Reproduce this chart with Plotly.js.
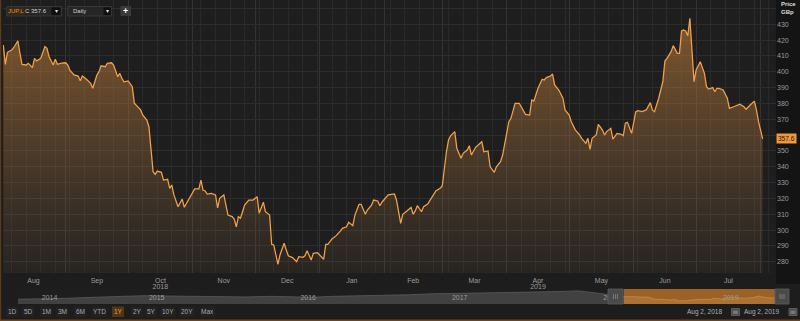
<!DOCTYPE html>
<html><head><meta charset="utf-8">
<script src="https://cdn.plot.ly/plotly-3.0.1.min.js"></script>
<style>html,body{margin:0;padding:0;background:#1d1d1d;overflow:hidden}#chart{width:800px;height:321px}</style>
</head><body><div id="chart"></div>
<script>
// ---------- data ----------
const symbol = 'JUP.L';
const lastPrice = 357.6;
const dates = [
'2018-08-02','2018-08-03','2018-08-04','2018-08-06','2018-08-07','2018-08-09','2018-08-10','2018-08-11','2018-08-13','2018-08-14','2018-08-16','2018-08-17','2018-08-18','2018-08-20','2018-08-22','2018-08-23','2018-08-24','2018-08-26','2018-08-27','2018-08-28','2018-08-30',
'2018-09-01','2018-09-02','2018-09-03','2018-09-05','2018-09-07','2018-09-08','2018-09-09','2018-09-11','2018-09-13','2018-09-14','2018-09-16','2018-09-17','2018-09-18','2018-09-20','2018-09-21','2018-09-23','2018-09-24','2018-09-26','2018-09-27','2018-09-28','2018-09-29',
'2018-10-01','2018-10-02','2018-10-03','2018-10-04','2018-10-05','2018-10-07','2018-10-08','2018-10-10','2018-10-11','2018-10-12','2018-10-13','2018-10-14','2018-10-15','2018-10-17','2018-10-18','2018-10-20','2018-10-21','2018-10-22','2018-10-23','2018-10-25','2018-10-27','2018-10-28','2018-10-30',
'2018-11-01','2018-11-02','2018-11-04','2018-11-05','2018-11-06','2018-11-07','2018-11-08','2018-11-10','2018-11-12','2018-11-13','2018-11-14','2018-11-16','2018-11-18','2018-11-20','2018-11-21','2018-11-22','2018-11-23','2018-11-24','2018-11-25','2018-11-26','2018-11-28','2018-11-30',
'2018-12-02','2018-12-03','2018-12-05','2018-12-06','2018-12-08','2018-12-09','2018-12-10','2018-12-12','2018-12-13','2018-12-15','2018-12-16','2018-12-17','2018-12-19','2018-12-21','2018-12-22','2018-12-24','2018-12-25','2018-12-26','2018-12-28','2018-12-29','2018-12-31',
'2019-01-01','2019-01-03','2019-01-04','2019-01-05','2019-01-07','2019-01-09','2019-01-11','2019-01-12','2019-01-14','2019-01-15','2019-01-17','2019-01-18','2019-01-20','2019-01-21','2019-01-23','2019-01-24','2019-01-26','2019-01-27','2019-01-29','2019-01-30','2019-01-31',
'2019-02-02','2019-02-03','2019-02-06','2019-02-07','2019-02-09','2019-02-10','2019-02-12','2019-02-14','2019-02-15','2019-02-16','2019-02-17','2019-02-19','2019-02-20','2019-02-22','2019-02-23','2019-02-25','2019-02-26','2019-02-28',
'2019-03-01','2019-03-03','2019-03-04','2019-03-05','2019-03-07','2019-03-08','2019-03-10','2019-03-11','2019-03-13','2019-03-14','2019-03-15','2019-03-17','2019-03-19','2019-03-20','2019-03-21','2019-03-23','2019-03-24','2019-03-26','2019-03-27','2019-03-29','2019-03-30',
'2019-04-01','2019-04-02','2019-04-03','2019-04-05','2019-04-07','2019-04-08','2019-04-10','2019-04-12','2019-04-13','2019-04-14','2019-04-16','2019-04-18','2019-04-19','2019-04-20','2019-04-22','2019-04-23','2019-04-24','2019-04-26','2019-04-28','2019-04-29',
'2019-05-01','2019-05-02','2019-05-04','2019-05-06','2019-05-07','2019-05-09','2019-05-10','2019-05-11','2019-05-12','2019-05-14','2019-05-15','2019-05-17','2019-05-18','2019-05-19','2019-05-21','2019-05-22','2019-05-24','2019-05-26','2019-05-27','2019-05-28','2019-05-29','2019-05-31',
'2019-06-02','2019-06-03','2019-06-05','2019-06-07','2019-06-09','2019-06-10','2019-06-11','2019-06-13','2019-06-15','2019-06-16','2019-06-17','2019-06-19','2019-06-20','2019-06-22','2019-06-23','2019-06-24','2019-06-25','2019-06-26','2019-06-27','2019-06-28','2019-06-30',
'2019-07-01','2019-07-03','2019-07-05','2019-07-06','2019-07-07','2019-07-09','2019-07-10','2019-07-11','2019-07-12','2019-07-14','2019-07-16','2019-07-17','2019-07-19','2019-07-21','2019-07-22','2019-07-24','2019-07-25','2019-07-27','2019-07-29','2019-07-30','2019-07-31',
'2019-08-02'];
const prices = [
416.9,404.7,412.3,413.8,415.2,419.6,411.7,404.7,404.3,405.4,402.6,408.5,406.8,408.5,415.9,414.8,409.5,404.3,407.9,404.7,405.4,
405.7,404.3,401.1,398.0,397.3,394.4,397.3,395.3,392.7,389.6,398.0,400.1,403.8,403.2,405.4,405.7,404.3,396.9,399.0,395.9,393.7,
394.2,392.7,390.6,380.1,378.6,375.9,372.7,369.5,365.3,349.5,336.9,335.2,337.3,336.5,331.6,332.1,326.4,328.5,322.2,314.8,319.6,314.4,319.0,
323.2,326.0,326.0,331.6,325.3,324.7,322.8,323.2,322.2,314.1,320.1,322.2,309.5,308.5,307.0,302.1,308.5,307.5,311.6,315.8,319.0,319.0,
321.1,310.6,317.6,311.6,309.5,291.0,290.6,278.4,284.3,291.7,287.4,283.8,282.6,280.0,283.2,282.8,283.8,287.0,281.1,285.3,285.7,
284.3,281.6,291.0,291.0,294.4,296.5,299.4,301.1,302.1,304.9,302.8,309.5,316.3,316.3,310.0,312.7,315.8,319.0,318.4,315.4,317.6,
321.1,322.2,322.8,319.0,304.3,310.0,312.1,314.4,310.0,312.1,315.4,311.6,314.8,316.5,318.6,322.8,324.9,326.4,
328.0,349.5,356.9,359.6,362.2,351.7,345.4,348.5,350.6,353.3,347.4,352.3,354.8,355.8,349.5,350.0,340.0,336.5,340.0,343.2,347.4,
362.2,368.5,370.6,380.1,380.1,377.9,373.1,372.7,382.2,381.5,389.6,395.3,394.8,396.3,397.3,398.6,391.7,388.5,383.3,375.9,
372.7,368.5,363.2,360.1,358.0,354.8,358.0,351.0,358.0,360.1,366.8,363.2,360.1,362.2,364.3,357.4,361.1,360.5,359.6,367.5,368.1,361.1,
374.8,375.4,374.8,375.9,380.5,375.9,374.8,383.3,393.7,406.8,408.5,412.7,416.5,411.7,411.7,425.8,426.4,425.8,422.8,433.8,393.7,
401.1,406.4,399.0,390.6,389.1,390.0,387.4,389.6,389.6,388.5,383.3,376.9,377.9,379.0,379.5,377.9,376.3,379.0,381.5,375.9,368.5,
357.6];
const monthStarts = ['2018-08-01','2018-09-01','2018-10-01','2018-11-01','2018-12-01','2019-01-01','2019-02-01','2019-03-01','2019-04-01','2019-05-01','2019-06-01','2019-07-01','2019-08-01'];
const monthLabels = ['Aug','Sep','Oct','Nov','Dec','Jan','Feb','Mar','Apr','May','Jun','Jul'];
const yearLabelMonths = ['2018-10-01','2019-04-01'];
const yearLabels = ['2018','2019'];
// 360 is hidden behind the last-price tag in the reference
const yTicks = [280,290,300,310,320,330,340,350,370,380,390,400,410,420,430];
const navDates = ['2014-08-02','2014-10-01','2014-12-01','2015-02-01','2015-04-01','2015-06-01','2015-08-01','2015-10-01','2015-12-01','2016-02-01','2016-04-01','2016-06-20','2016-07-10','2016-09-01','2016-11-01','2017-01-01','2017-03-01','2017-05-01','2017-07-01','2017-09-01','2017-11-01','2018-01-01','2018-03-01','2018-04-15','2018-06-01','2018-08-02'];
const navPrices = [330,340,360,390,420,440,430,420,430,400,420,410,390,420,430,450,470,500,510,530,550,560,570,590,520,420];
const navYears = ['2014','2015','2016','2017','2018','2019'];
const rangeButtons = ['1D','5D','1M','3M','6M','YTD','1Y','2Y','5Y','10Y','20Y','Max'];
const activeButton = '1Y';
const rangeLabels = ['Aug 2, 2018','Aug 2, 2019'];

// ---------- layout helpers (pixel -> paper) ----------
const W = 800, H = 321, ML = 3, MR = 24;
const PW = W - ML - MR;
const X = px => (px - ML) / PW;
const Y = py => (H - py) / H;
const FONT = 'Liberation Sans, Arial, sans-serif';

const ms = d => new Date(d + 'T00:00:00Z').getTime();
const monthMids = monthLabels.map((_, i) => (ms(monthStarts[i]) + ms(monthStarts[i + 1])) / 2);
const yearMidsMain = yearLabelMonths.map(m => {
  const i = monthStarts.indexOf(m);
  return monthMids[i];
});
const navStart = ms(navDates[0]), navEnd = ms(dates[dates.length - 1]);
const yearMids = navYears.map(y => {
  const a = Math.max(navStart, ms(y + '-01-01'));
  const b = Math.min(navEnd, ms((+y + 1) + '-01-01'));
  return (a + b) / 2;
});
const DAY = 86400000;
const xRange = [ms(dates[0]) - 0.14 * DAY, ms(dates[0]) + 371.4 * DAY];

const traces = [
  {x: dates, y: prices, type: 'scatter', mode: 'lines', xaxis: 'x', yaxis: 'y',
   line: {color: '#f3a24a', width: 1.25}, fill: 'tozeroy',
   fillgradient: {type: 'vertical', start: 273, stop: 445,
     colorscale: [[0, 'rgba(150,110,70,0.08)'], [1, 'rgba(200,128,55,0.62)']]},
   hoverinfo: 'skip'},
  {x: [dates[0]], y: [prices[0]], type: 'scatter', mode: 'lines', xaxis: 'x2', yaxis: 'y', hoverinfo: 'skip'},
  {x: [dates[0]], y: [prices[0]], type: 'scatter', mode: 'lines', xaxis: 'x4', yaxis: 'y', hoverinfo: 'skip'},
  {x: navDates, y: navPrices, type: 'scatter', mode: 'lines', xaxis: 'x3', yaxis: 'y3',
   line: {color: '#5a5a5a', width: 0.8}, fill: 'tozeroy', fillcolor: 'rgba(95,95,95,0.55)', hoverinfo: 'skip'},
  {x: dates, y: prices, type: 'scatter', mode: 'lines', xaxis: 'x3', yaxis: 'y3',
   line: {color: 'rgba(240,185,120,0.55)', width: 0.6}, fill: 'tozeroy', fillcolor: 'rgba(235,175,100,0.22)', hoverinfo: 'skip'}
];

const shapes = [];
const annotations = [];
function rect(x0, x1, y0, y1, fill, line, layer) {
  shapes.push({type: 'rect', xref: 'paper', yref: 'paper', x0: X(x0), x1: X(x1), y0: Y(y1), y1: Y(y0),
    fillcolor: fill, line: {width: line ? 0.8 : 0, color: line || fill}, layer: layer || 'above'});
}
function text(x, y, t, color, size, anchor, bold) {
  annotations.push({xref: 'paper', yref: 'paper', x: X(x), y: Y(y), text: bold ? '<b>' + t + '</b>' : t,
    showarrow: false, xanchor: anchor || 'center', yanchor: 'middle',
    font: {family: FONT, size: size || 7, color: color}});
}

// right axis panel, borders
rect(776, 801, -1, 284, '#141414', null, 'below');
rect(-3, 1.2, -1, 322, '#5c3b1c');
rect(-3, 801, 319.6, 322, '#6a4420');

// toolbar
rect(6.7, 61.7, 6.5, 16, '#262626', '#3c3c3c');
rect(7.5, 24.5, 7.4, 15.1, '#3a2913');
text(16, 11.3, symbol, '#e0902e', 6);
text(35.5, 11.3, 'C ' + lastPrice, '#cfcfcf', 6);
rect(51.5, 60.5, 7.4, 15.1, '#0f0f0f');
text(56, 11, '▾', '#dddddd', 6);
rect(67.7, 111.7, 6.5, 16, '#262626', '#3c3c3c');
text(71, 11.3, 'Daily', '#cfcfcf', 6, 'left');
rect(103.5, 110.8, 7.4, 15.1, '#0f0f0f');
text(107.2, 11, '▾', '#dddddd', 6);
rect(120.5, 131, 6, 16, '#3a3a3a');
text(125.8, 10.8, '+', '#ffffff', 9, 'center', true);

// price header
text(779, 4.2, 'Price', '#dddddd', 6, 'left', true);
text(779, 11.8, 'GBp', '#dddddd', 6, 'left', true);
annotations.push({xref: 'paper', yref: 'y', x: 1, y: lastPrice, text: String(lastPrice), showarrow: false,
  xanchor: 'left', yanchor: 'middle', bgcolor: '#f0993a', borderpad: 1,
  font: {family: FONT, size: 6.5, color: '#1a1a1a'}});

// navigator highlight + handles
shapes.push({type: 'rect', xref: 'x3', yref: 'paper', x0: dates[0], x1: dates[dates.length - 1],
  y0: Y(304), y1: Y(289), fillcolor: '#9a6226', line: {width: 0}, layer: 'below'});
[[608, 623], [775, 789]].forEach(([a, b]) => {
  rect(a, b, 289, 304, '#4a4a4a', '#5e5e5e');
  const c = (a + b) / 2;
  [-2, 0, 2].forEach(d => shapes.push({type: 'line', xref: 'paper', yref: 'paper',
    x0: X(c + d), x1: X(c + d), y0: Y(299), y1: Y(294), line: {color: '#8a8a8a', width: 0.7}}));
});

// range buttons
const btnX = [12, 28, 46, 62, 80, 99, 118, 137, 151, 168, 187, 208];
rangeButtons.forEach((b, i) => {
  const hw = b.length > 2 ? 7.5 : 6;
  const on = b === activeButton;
  rect(btnX[i] - hw, btnX[i] + hw, 306.5, 317, on ? '#4f3714' : '#222222');
  text(btnX[i], 311.8, b, on ? '#e3a04c' : '#a8a8a8', 6.5);
});
// date boxes
text(704, 311.8, rangeLabels[0], '#b0b0b0', 6.5);
text(761.7, 311.8, rangeLabels[1], '#b0b0b0', 6.5);
[[731.5, 739.5], [789, 797]].forEach(([a, b]) => {
  rect(a, b, 308.5, 315.5, '#4a4a4a', '#666666');
  rect(a + 1.5, b - 1.5, 310.5, 314, '#777777');
});

const tickFont = {family: FONT, size: 7, color: '#9c9c9c'};
const layout = {
  width: W, height: H, margin: {l: ML, r: MR, t: 0, b: 0, pad: 0},
  paper_bgcolor: '#1d1d1d', plot_bgcolor: '#1e1e1e', showlegend: false,
  font: {family: FONT, size: 7, color: '#9c9c9c'},
  xaxis: {type: 'date', range: xRange, anchor: 'y', domain: [0, 1],
    tickmode: 'array', tickvals: monthStarts, showticklabels: false, ticks: '',
    showgrid: true, gridcolor: '#333333', gridwidth: 1, zeroline: false, showline: false,
    minor: {tickmode: 'linear', tick0: '2018-08-06', dtick: 7 * DAY, showgrid: true, gridcolor: '#292929', ticks: ''}},
  xaxis2: {type: 'date', range: xRange, overlaying: 'x', anchor: 'y', side: 'bottom',
    tickmode: 'array', tickvals: monthMids, ticktext: monthLabels, ticks: '', ticklabelstandoff: 2,
    showgrid: false, zeroline: false, showline: false, tickfont: tickFont},
  xaxis4: {type: 'date', range: xRange, overlaying: 'x', anchor: 'y', side: 'bottom',
    tickmode: 'array', tickvals: yearMidsMain, ticktext: yearLabels, ticks: '', ticklabelstandoff: 8,
    showgrid: false, zeroline: false, showline: false, tickfont: tickFont},
  yaxis: {range: [272.9, 445.35], side: 'right', domain: [Y(273), 1], anchor: 'x',
    tickmode: 'array', tickvals: yTicks, ticks: '', tickfont: tickFont,
    showgrid: true, gridcolor: '#2d2d2d', zeroline: false, showline: false,
    minor: {tickmode: 'linear', tick0: 0, dtick: 10, showgrid: true, gridcolor: '#2d2d2d', ticks: ''}},
  xaxis3: {type: 'date', domain: [X(18), X(775)], anchor: 'y3', range: [navStart, navEnd],
    tickmode: 'array', tickvals: yearMids, ticktext: navYears, ticks: '', ticklabelposition: 'inside',
    showgrid: false, zeroline: false, showline: false, tickfont: {family: FONT, size: 7, color: '#9a9a9a'}},
  yaxis3: {domain: [Y(304), Y(289)], range: [180, 650], anchor: 'x3', visible: false},
  shapes: shapes, annotations: annotations
};
Plotly.newPlot('chart', traces, layout, {staticPlot: true, displayModeBar: false});
</script></body></html>
